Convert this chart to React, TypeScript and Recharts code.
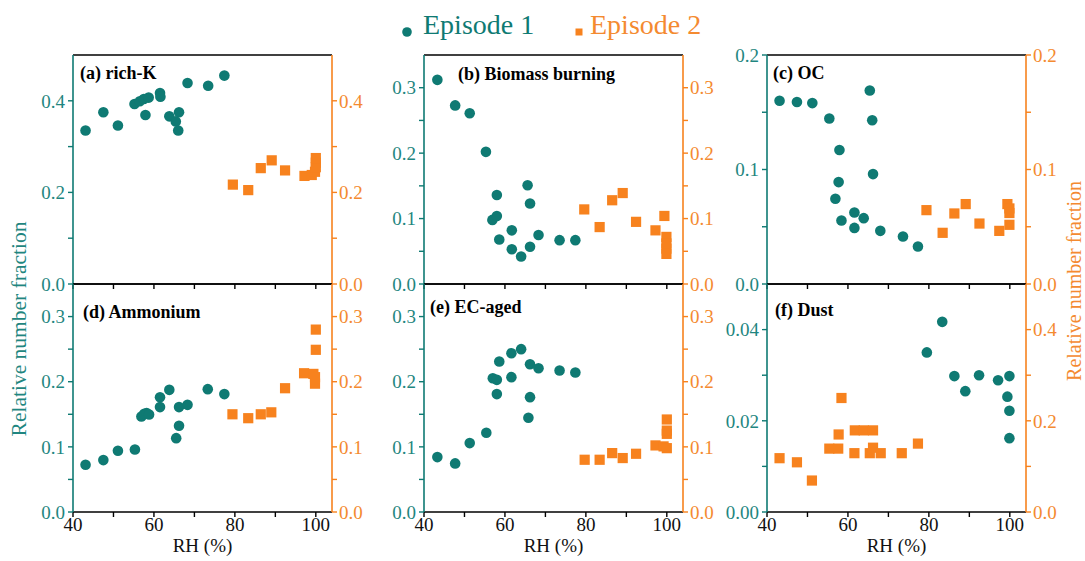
import React from 'react';
import { ScatterChart, Scatter, XAxis, YAxis, ReferenceLine } from 'recharts';

const TEAL = '#0f7a73';
const ORANGE = '#f7821e';
const TEAL_TXT = '#1f8680';
const ORANGE_TXT = '#f48a30';
const FONT = '"Liberation Serif", "Times New Roman", serif';

// ---------- data ----------
// (a) rich-K
const aRH1 = [43.1, 47.5, 51.1, 55.2, 56.5, 57.5, 58.7, 57.9, 61.5, 61.6, 63.8, 65.4, 66.2, 66.0, 68.3, 73.4, 77.4];
const aVal1 = [0.335, 0.375, 0.346, 0.393, 0.399, 0.404, 0.407, 0.369, 0.417, 0.409, 0.366, 0.355, 0.375, 0.335, 0.439, 0.433, 0.455];
const aRH2 = [79.5, 83.3, 86.4, 89.1, 92.4, 97.2, 99.0, 99.8, 100, 100, 100];
const aVal2 = [0.217, 0.205, 0.253, 0.270, 0.248, 0.236, 0.238, 0.245, 0.255, 0.265, 0.275];
// (b) Biomass burning
const bRH1 = [43.3, 47.7, 51.3, 55.3, 58.0, 56.9, 58.0, 58.6, 61.7, 61.7, 64.0, 65.6, 66.2, 66.2, 68.3, 73.5, 77.4];
const bVal1 = [0.312, 0.273, 0.261, 0.202, 0.136, 0.098, 0.104, 0.068, 0.082, 0.053, 0.042, 0.151, 0.123, 0.057, 0.075, 0.067, 0.067];
const bRH2 = [79.6, 83.4, 86.5, 89.1, 92.4, 97.2, 99.4, 99.9, 99.9, 99.9, 99.9];
const bVal2 = [0.114, 0.087, 0.128, 0.139, 0.095, 0.082, 0.104, 0.072, 0.062, 0.054, 0.046];
// (c) OC
const cRH1 = [43.1, 47.4, 51.2, 55.4, 57.9, 57.7, 56.9, 58.4, 61.6, 61.6, 63.9, 65.4, 66.0, 66.2, 68.0, 73.6, 77.3];
const cVal1 = [0.160, 0.159, 0.158, 0.1445, 0.117, 0.089, 0.0745, 0.0555, 0.0625, 0.049, 0.0575, 0.169, 0.143, 0.096, 0.0464, 0.0415, 0.0327];
const cRH2 = [79.4, 83.4, 86.3, 89.1, 92.5, 97.4, 99.4, 99.9, 99.9, 99.9];
const cVal2 = [0.0645, 0.0447, 0.0616, 0.0698, 0.0528, 0.0464, 0.0698, 0.066, 0.0517, 0.062];
// (d) Ammonium
const dRH1 = [43.1, 47.5, 51.1, 55.3, 56.9, 57.6, 58.2, 58.8, 61.5, 61.5, 63.8, 65.5, 66.2, 66.2, 68.3, 73.3, 77.4];
const dVal1 = [0.0726, 0.0797, 0.094, 0.096, 0.1467, 0.1507, 0.1518, 0.1497, 0.176, 0.161, 0.1875, 0.1134, 0.1323, 0.161, 0.1645, 0.1886, 0.181];
const dRH2 = [79.4, 83.3, 86.4, 89.0, 92.4, 97.1, 99.4, 99.8, 99.8, 100, 100];
const dVal2 = [0.150, 0.144, 0.150, 0.153, 0.190, 0.213, 0.212, 0.207, 0.197, 0.249, 0.280];
// (e) EC-aged
const eRH1 = [43.3, 47.7, 51.3, 55.4, 57.0, 58.0, 58.0, 58.6, 61.6, 61.6, 64.0, 65.8, 66.2, 66.2, 68.3, 73.5, 77.4];
const eVal1 = [0.0843, 0.0746, 0.1058, 0.1216, 0.2054, 0.2029, 0.181, 0.231, 0.2437, 0.207, 0.250, 0.1446, 0.1763, 0.2269, 0.2207, 0.2172, 0.2141];
const eRH2 = [79.7, 83.4, 86.5, 89.1, 92.4, 97.2, 99.2, 100, 100, 100, 100];
const eVal2 = [0.0802, 0.0802, 0.0904, 0.0828, 0.0894, 0.1022, 0.1007, 0.098, 0.120, 0.125, 0.142];
// (f) Dust
const fRH1 = [79.5, 83.3, 86.3, 89.0, 92.4, 97.1, 99.9, 99.4, 99.9, 99.9];
const fVal1 = [0.0350, 0.0417, 0.0298, 0.0265, 0.0300, 0.0289, 0.0298, 0.0253, 0.0222, 0.0162];
const fRH2 = [43.1, 47.4, 51.1, 55.4, 57.6, 57.7, 58.4, 61.6, 61.7, 63.9, 66.2, 65.4, 66.2, 68.1, 73.3, 77.3];
const fVal2 = [0.118, 0.109, 0.069, 0.139, 0.139, 0.170, 0.250, 0.129, 0.179, 0.179, 0.179, 0.129, 0.141, 0.129, 0.129, 0.150];

// tick values & labels
const xTicks = [40, 50, 60, 70, 80, 90, 100];
const xLabels = ['40', '', '60', '', '80', '', '100'];
const ticks05 = [0, 0.1, 0.2, 0.3, 0.4];
const labels05 = ['0.0', '', '0.2', '', '0.4'];
const ticks035 = [0, 0.05, 0.1, 0.15, 0.2, 0.25, 0.3];
const labels035 = ['0.0', '', '0.1', '', '0.2', '', '0.3'];
const ticks02 = [0, 0.05, 0.1, 0.15, 0.2];
const labels02 = ['0.0', '', '0.1', '', '0.2'];
const ticks005 = [0, 0.01, 0.02, 0.03, 0.04];
const labels005 = ['0.00', '', '0.02', '', '0.04'];

const titles = ['(a) rich-K', '(b) Biomass burning', '(c) OC', '(d) Ammonium', '(e) EC-aged', '(f) Dust'];

const zip = (xs: number[], ys: number[]) => xs.map((x, i) => ({ x, y: ys[i] }));

type Axis = { max: number; ticks: number[]; labels: string[] };
type PanelCfg = {
  s1: { x: number; y: number }[];
  s2: { x: number; y: number }[];
  left: Axis;
  right: Axis;
  title: string;
  titlePos: [number, number];
};

const A05: Axis = { max: 0.5, ticks: ticks05, labels: labels05 };
const A035: Axis = { max: 0.35, ticks: ticks035, labels: labels035 };
const A02: Axis = { max: 0.2, ticks: ticks02, labels: labels02 };
const A005: Axis = { max: 0.05, ticks: ticks005, labels: labels005 };

const panels: PanelCfg[] = [
  { s1: zip(aRH1, aVal1), s2: zip(aRH2, aVal2), left: A05, right: A05, title: titles[0], titlePos: [80, 79] },
  { s1: zip(bRH1, bVal1), s2: zip(bRH2, bVal2), left: A035, right: A035, title: titles[1], titlePos: [458, 80] },
  { s1: zip(cRH1, cVal1), s2: zip(cRH2, cVal2), left: A02, right: A02, title: titles[2], titlePos: [773, 79] },
  { s1: zip(dRH1, dVal1), s2: zip(dRH2, dVal2), left: A035, right: A035, title: titles[3], titlePos: [83, 318] },
  { s1: zip(eRH1, eVal1), s2: zip(eRH2, eVal2), left: A035, right: A035, title: titles[4], titlePos: [430, 313] },
  { s1: zip(fRH1, fVal1), s2: zip(fRH2, fVal2), left: A005, right: A05, title: titles[5], titlePos: [775, 316] },
];

const colLeft = [73, 424, 767];
const plotW = 259;
const rowTop = [55, 284];
const rowH = [229, 228];
const AXW = 60;
const MT = 15;

const Circle = (p: any) => <circle cx={p.cx} cy={p.cy} r={5.3} fill={TEAL} />;
const Square = (p: any) => <rect x={p.cx - 5.1} y={p.cy - 5.1} width={10.2} height={10.2} fill={ORANGE} />;

function Panel({ cfg, idx }: { cfg: PanelCfg; idx: number }) {
  const row = Math.floor(idx / 3);
  const col = idx % 3;
  const bottom = row === 1;
  const xH = bottom ? 46 : 10;
  const width = plotW + AXW * 2;
  const height = MT + rowH[row] + xH;
  const fmt = (labels: string[], ticks: number[]) => (v: number) => {
    const i = ticks.findIndex((t) => Math.abs(t - v) < 1e-9);
    return i >= 0 ? labels[i] : '';
  };
  return (
    <div style={{ position: 'absolute', left: colLeft[col] - AXW, top: rowTop[row] - MT }}>
      <ScatterChart width={width} height={height} margin={{ top: MT, right: 0, bottom: 0, left: 0 }}>
        <XAxis
          type="number"
          dataKey="x"
          domain={[40, 104]}
          ticks={xTicks}
          interval={0}
          allowDataOverflow
          height={xH}
          tickSize={5}
          tickMargin={1}
          axisLine={{ stroke: '#000', strokeWidth: 1.6 }}
          tickLine={{ stroke: '#000', strokeWidth: 1.4 }}
          tick={{ fill: '#111', fontSize: 19, fontFamily: FONT }}
          tickFormatter={bottom ? fmt(xLabels, xTicks) : () => ''}
          label={bottom ? { value: 'RH (%)', position: 'insideBottom', offset: 6, fill: '#111', fontSize: 19, fontFamily: FONT } : undefined}
        />
        <YAxis
          yAxisId="left"
          type="number"
          dataKey="y"
          orientation="left"
          width={AXW}
          domain={[0, cfg.left.max]}
          ticks={cfg.left.ticks}
          interval={0}
          allowDataOverflow
          tickSize={5}
          tickMargin={3}
          axisLine={{ stroke: TEAL, strokeWidth: 1.6 }}
          tickLine={{ stroke: TEAL, strokeWidth: 1.4 }}
          tick={{ fill: TEAL_TXT, fontSize: 19, fontFamily: FONT }}
          tickFormatter={fmt(cfg.left.labels, cfg.left.ticks)}
        />
        <YAxis
          yAxisId="right"
          type="number"
          dataKey="y"
          orientation="right"
          width={AXW}
          domain={[0, cfg.right.max]}
          ticks={cfg.right.ticks}
          interval={0}
          allowDataOverflow
          tickSize={5}
          tickMargin={2}
          axisLine={{ stroke: ORANGE, strokeWidth: 1.6 }}
          tickLine={{ stroke: ORANGE, strokeWidth: 1.4 }}
          tick={{ fill: ORANGE_TXT, fontSize: 19, fontFamily: FONT }}
          tickFormatter={fmt(cfg.right.labels, cfg.right.ticks)}
        />
        <ReferenceLine yAxisId="left" y={cfg.left.max} stroke="#000" strokeWidth={1.6} />
        <Scatter data={cfg.s2} yAxisId="right" shape={Square} isAnimationActive={false} />
        <Scatter data={cfg.s1} yAxisId="left" shape={Circle} isAnimationActive={false} />
      </ScatterChart>
    </div>
  );
}

export default function App() {
  return (
    <div style={{ position: 'absolute', left: 0, top: 0, width: 1085, height: 561, background: '#fff', overflow: 'hidden', fontFamily: FONT }}>
      <style>{`.recharts-wrapper text, .recharts-wrapper tspan { font-family: ${FONT} !important; }`}</style>
      {panels.map((p, i) => (
        <Panel key={i} cfg={p} idx={i} />
      ))}
      <svg width={1085} height={561} style={{ position: 'absolute', left: 0, top: 0, pointerEvents: 'none' }}>
        {/* legend */}
        <circle cx={407} cy={32} r={4.8} fill={TEAL} />
        <text x={423} y={34} fontSize={28} fontFamily={FONT} fill={TEAL}>Episode 1</text>
        <rect x={575.5} y={28.5} width={7} height={7} fill={ORANGE} />
        <text x={590} y={34} fontSize={28} fontFamily={FONT} fill={ORANGE_TXT}>Episode 2</text>
        {/* panel titles */}
        {panels.map((p, i) => (
          <text key={i} x={p.titlePos[0]} y={p.titlePos[1]} fontSize={18} fontWeight="bold" fontFamily={FONT} fill="#000">
            {p.title}
          </text>
        ))}
        {/* y-axis titles */}
        <text x={0} y={0} transform="translate(26,329) rotate(-90)" textAnchor="middle" fontSize={21.5} fontFamily={FONT} fill={TEAL_TXT}>
          Relative number fraction
        </text>
        <text x={0} y={0} transform="translate(1081,281) rotate(-90)" textAnchor="middle" fontSize={20} fontFamily={FONT} fill={ORANGE_TXT}>
          Relative number fraction
        </text>
      </svg>
    </div>
  );
}
